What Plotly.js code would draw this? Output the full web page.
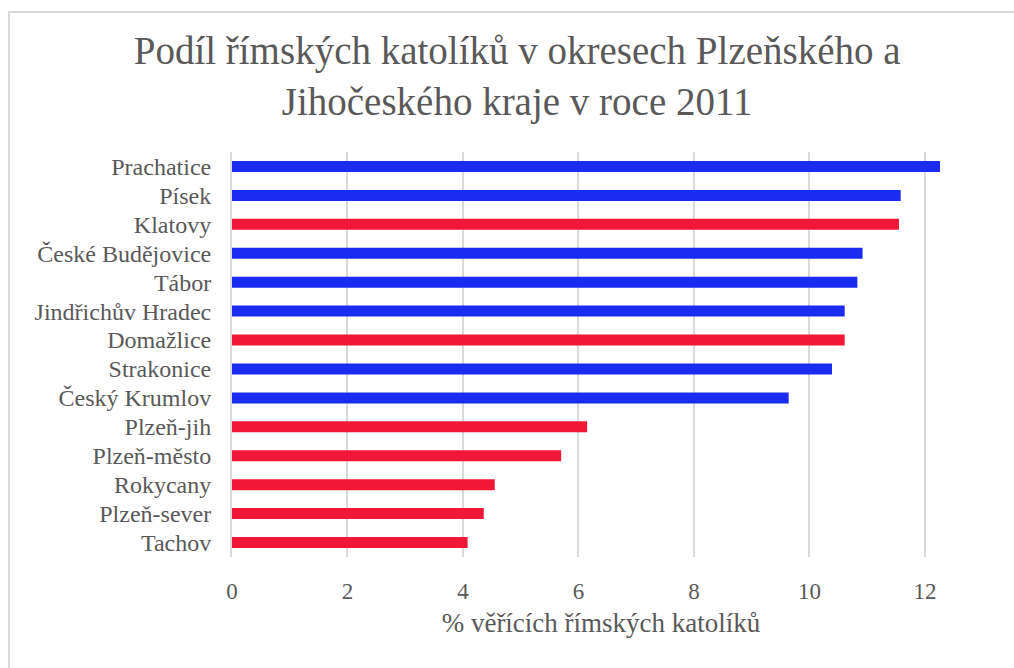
<!DOCTYPE html>
<html>
<head>
<meta charset="utf-8">
<script src="https://cdn.plot.ly/plotly-3.0.1.min.js"></script>
<style>
  body { margin: 0; background: #fff; }
  #wrap { position: relative; width: 1014px; height: 668px; }
  #chart { width: 1014px; height: 668px; }
  .bl { position: absolute; background: #d9d9d9; }
</style>
</head>
<body>
<div id="wrap">
  <div id="chart"></div>
  <div class="bl" style="left:8px; top:11px; width:1006px; height:2px;"></div>
  <div class="bl" style="left:8px; top:11px; width:2px; height:657px;"></div>
</div>
<script>
const districts = ["Prachatice", "Písek", "Klatovy", "České Budějovice", "Tábor", "Jindřichův Hradec", "Domažlice", "Strakonice", "Český Krumlov", "Plzeň-jih", "Plzeň-město", "Rokycany", "Plzeň-sever", "Tachov"];
const shares = [12.26, 11.58, 11.55, 10.92, 10.83, 10.61, 10.61, 10.39, 9.64, 6.15, 5.70, 4.55, 4.36, 4.08];
const regions = ["J", "J", "P", "J", "J", "J", "P", "J", "J", "P", "P", "P", "P", "P"];
const regionColors = { J: "#1a2cf0", P: "#f01737" };
const tickVals = [0, 2, 4, 6, 8, 10, 12];

const fontFamily = "Liberation Serif, DejaVu Serif, serif";

Plotly.newPlot("chart", [{
  type: "bar",
  orientation: "h",
  y: districts,
  x: shares,
  marker: { color: regions.map(r => regionColors[r]) },
  hoverinfo: "x+y"
}], {
  width: 1014,
  height: 668,
  margin: { l: 232, r: 44, t: 152, b: 111 },
  paper_bgcolor: "rgba(0,0,0,0)",
  plot_bgcolor: "rgba(0,0,0,0)",
  bargap: 0.62,
  showlegend: false,
  title: {
    text: "Podíl římských katolíků v okresech Plzeňského a<br>Jihočeského kraje v roce 2011",
    font: { family: fontFamily, size: 39, color: "#595959" },
    x: 0.51, xanchor: "center", xref: "container",
    y: 0.904, yanchor: "middle", yref: "container"
  },
  xaxis: {
    range: [0, 12.78],
    tickmode: "array",
    tickvals: tickVals,
    ticktext: tickVals.map(String),
    showgrid: true,
    gridcolor: "#d9d9d9",
    gridwidth: 2,
    zeroline: false,
    showline: false,
    ticks: "",
    ticklabelstandoff: 18,
    tickfont: { family: fontFamily, size: 23, color: "#595959" },
    title: {
      text: "% věřících římských katolíků",
      font: { family: fontFamily, size: 27, color: "#595959" },
      standoff: 10
    },
    fixedrange: true
  },
  yaxis: {
    type: "category",
    autorange: "reversed",
    tickmode: "array",
    tickvals: districts,
    ticktext: districts,
    showgrid: false,
    zeroline: false,
    showline: true,
    linecolor: "#d9d9d9",
    linewidth: 2,
    ticks: "",
    ticklabelstandoff: 14,
    tickfont: { family: fontFamily, size: 24, color: "#595959" },
    fixedrange: true
  }
}, { displayModeBar: false, responsive: false });
</script>
</body>
</html>
